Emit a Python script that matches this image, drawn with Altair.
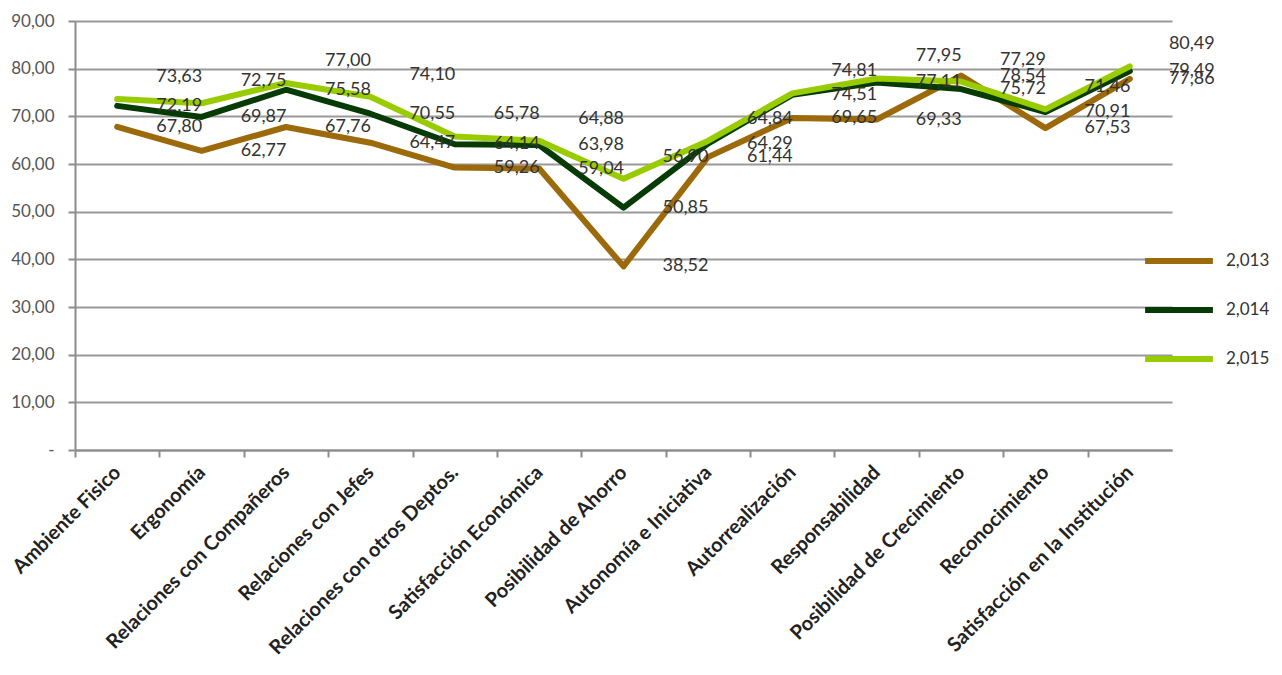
import altair as alt
import pandas as pd

categories = ["Ambiente Fisico", "Ergonomía", "Relaciones con Compañeros", "Relaciones con Jefes",
              "Relaciones con otros Deptos.", "Satisfacción Económica", "Posibilidad de Ahorro",
              "Autonomía e Iniciativa", "Autorrealización", "Responsabilidad",
              "Posibilidad de Crecimiento", "Reconocimiento", "Satisfacción en la Institución"]
series = ["2,013", "2,014", "2,015"]
v2013 = [67.80, 62.77, 67.76, 64.47, 59.26, 59.04, 38.52, 61.44, 69.65, 69.33, 78.54, 67.53, 77.86]
v2014 = [72.19, 69.87, 75.58, 70.55, 64.14, 63.98, 50.85, 64.29, 74.51, 77.11, 75.72, 70.91, 79.49]
v2015 = [73.63, 72.75, 77.00, 74.10, 65.78, 64.88, 56.90, 64.84, 74.81, 77.95, 77.29, 71.46, 80.49]
colors = ["#9C6A0A", "#063B06", "#99CC00"]
y_ticks = [0, 10, 20, 30, 40, 50, 60, 70, 80, 90]

rows = []
for s, vals in zip(series, [v2013, v2014, v2015]):
    for i, (c, v) in enumerate(zip(categories, vals)):
        rows.append({"cat": c, "serie": s, "valor": v, "ord": i})
df = pd.DataFrame(rows)

FONT = "Lato"
W = 1097
HALF_BAND = W / len(categories) / 2

x_axis = alt.Axis(title=None, labelAngle=-45, labelAlign="right", labelBaseline="middle",
                  labelFontWeight="bold", labelFontSize=20, labelColor="#222",
                  labelFont=FONT, labelPadding=12, ticks=True,
                  tickOffset=-HALF_BAND, labelOffset=HALF_BAND,
                  tickSize=7, tickColor="#8c8c8c", tickWidth=2,
                  domainColor="#8c8c8c", domainWidth=2, grid=False,
                  labelOverlap=False, labelLimit=400)
y_axis = alt.Axis(title=None, values=y_ticks,
                  labelExpr="datum.value == 0 ? '-' : replace(format(datum.value, '.2f'), '.', ',')",
                  labelFontSize=17, labelColor="#555", labelFont=FONT, labelPadding=14,
                  tickSize=7, tickColor="#8c8c8c", tickWidth=2,
                  domainColor="#8c8c8c", domainWidth=2,
                  grid=True, gridColor="#9a9a9a", gridWidth=2)
x_scale = alt.Scale(type="band", paddingInner=0, paddingOuter=0)
y_scale = alt.Scale(domain=[0, 90], nice=False)

x_enc = alt.X("cat:N", sort=categories, bandPosition=0.5, scale=x_scale, axis=x_axis)
y_enc = alt.Y("valor:Q", scale=y_scale, axis=y_axis)

color_enc = alt.Color("serie:N", scale=alt.Scale(domain=series, range=colors),
                      legend=alt.Legend(title=None, orient="none", legendX=1067, legendY=203,
                                        symbolType="stroke", symbolStrokeWidth=6, symbolSize=4600,
                                        labelFontSize=17, labelColor="#333", labelFont=FONT,
                                        labelOffset=10, rowPadding=0, direction="vertical"))

lines = alt.Chart(df).mark_line(strokeWidth=6, strokeCap="round", strokeJoin="round").encode(
    x=x_enc, y=y_enc, color=color_enc, order="ord:Q", detail="serie:N")

base_text = alt.Chart(df).transform_calculate(
    lab="replace(format(datum.valor, '.2f'), '.', ',')")

txt_low = base_text.transform_filter(alt.datum.serie != "2,015").mark_text(
    dx=62, dy=0, fontSize=18, font=FONT, color="#333").encode(
    x=x_enc, y=y_enc, text="lab:N")
txt_high = base_text.transform_filter(alt.datum.serie == "2,015").mark_text(
    dx=62, dy=-22, fontSize=18, font=FONT, color="#333").encode(
    x=x_enc, y=y_enc, text="lab:N")

chart = alt.layer(lines, txt_low, txt_high).properties(
    width=W, height=429,
    background="white",
    view=alt.ViewBackground(stroke="transparent", strokeWidth=0),
    autosize=alt.AutoSizeParams(type="none"),
    padding={"left": 67, "top": 13, "right": 102, "bottom": 225},
).configure_view(stroke="transparent", strokeWidth=0).configure_axisX(grid=False)

chart.save("out.html", embed_options={"renderer": "svg", "actions": False})
